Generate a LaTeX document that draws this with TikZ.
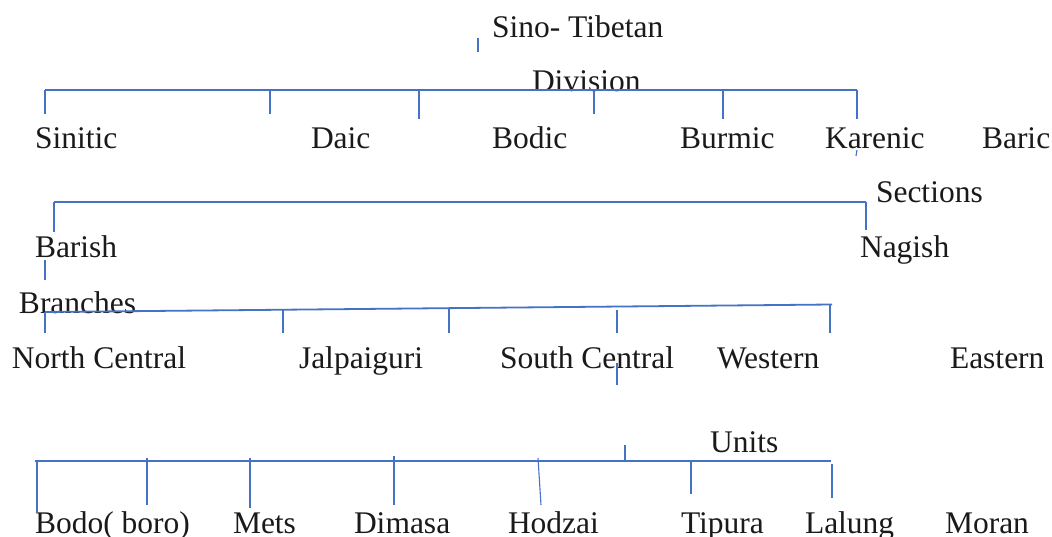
\documentclass[tikz,border=0pt]{standalone}
\usepackage{fontspec}
\setmainfont{Liberation Serif}
\definecolor{lineblue}{HTML}{4472C4}
\definecolor{txt}{HTML}{1A1A1A}
\begin{document}
\begin{tikzpicture}[x=1pt,y=-1pt,
  word/.style={anchor=base west,inner sep=0pt,outer sep=0pt,text=txt,font=\fontsize{31.5}{36}\selectfont},
  bar/.style={draw=lineblue,line width=1.8pt},
  tick/.style={draw=lineblue,line width=1.1pt}]
\useasboundingbox[fill=white] (0,0) rectangle (1052,537);
% Level 0
\node[word] (sino) at (492,38) {Sino- Tibetan};
\coordinate (t0a) at (478,38); \coordinate (t0b) at (478,52);
\draw[tick] (t0a) -- (t0b);
% Division
\node[word] (division) at (532,92) {Division};
\coordinate (d0) at (45,90); \coordinate (d1) at (857,90);
\draw[bar] (d0) -- (d1);
\foreach \x/\e in {45/114,270/114,419/119,594/114,723/119,857/119}
  \draw[tick] (\x,90) -- (\x,\e);
\node[word] (sinitic) at (35,149) {Sinitic};
\node[word] (daic) at (311,149) {Daic};
\node[word] (bodic) at (492,149) {Bodic};
\node[word] (burmic) at (680,149) {Burmic};
\node[word] (karenic) at (825,149) {Karenic};
\node[word] (baric) at (982,149) {Baric};
\coordinate (k0) at (857,150); \coordinate (k1) at (856,156);
\draw[tick] (k0) -- (k1);
% Sections
\node[word] (sections) at (876,203) {Sections};
\coordinate (s0) at (54,202); \coordinate (s1) at (866,202);
\draw[bar] (s0) -- (s1);
\draw[tick] (54,202) -- (54,232);
\draw[tick] (866,202) -- (866,230);
\node[word] (barish) at (35,258) {Barish};
\node[word] (nagish) at (860,258) {Nagish};
\coordinate (b0) at (45,260); \coordinate (b1) at (45,280);
\draw[tick] (b0) -- (b1);
% Branches
\node[word] (branches) at (19,313) {Branches};
\coordinate (br0) at (45,312); \coordinate (br1) at (832,304.5);
\draw[bar] (br0) -- (br1);
\draw[tick] (45,312) -- (45,333);
\draw[tick] (283,310) -- (283,333);
\draw[tick] (449,308.5) -- (449,333);
\draw[tick] (617,310) -- (617,333);
\draw[tick] (830,305) -- (830,333);
\node[word] (nc) at (12,368) {North Central};
\node[word] (jal) at (299,368) {Jalpaiguri};
\node[word] (sc) at (500,368) {South Central};
\node[word] (west) at (717,368) {Western};
\node[word] (east) at (950,368) {Eastern};
\coordinate (sc0) at (617,363); \coordinate (sc1) at (617,385);
\draw[tick] (sc0) -- (sc1);
% Units
\node[word] (units) at (710,452) {Units};
\coordinate (u0) at (625,445); \coordinate (u1) at (625,461);
\draw[tick] (u0) -- (u1);
\coordinate (h0) at (35,461); \coordinate (h1) at (831,461);
\draw[bar] (h0) -- (h1);
\draw[tick] (37,461) -- (37,512);
\draw[tick] (147,458) -- (147,505);
\draw[tick] (250,458) -- (250,508);
\draw[tick] (394,456) -- (394,505);
\draw[tick] (538,458) -- (541,505);
\draw[tick] (691,461) -- (691,494);
\draw[tick] (832,464) -- (832,498);
\node[word] (bodo) at (35,533) {Bodo( boro)};
\node[word] (mets) at (233,533) {Mets};
\node[word] (dimasa) at (354,533) {Dimasa};
\node[word] (hodzai) at (508,533) {Hodzai};
\node[word] (tipura) at (681,533) {Tipura};
\node[word] (lalung) at (805,533) {Lalung};
\node[word] (moran) at (945,533) {Moran};
\end{tikzpicture}
\end{document}
